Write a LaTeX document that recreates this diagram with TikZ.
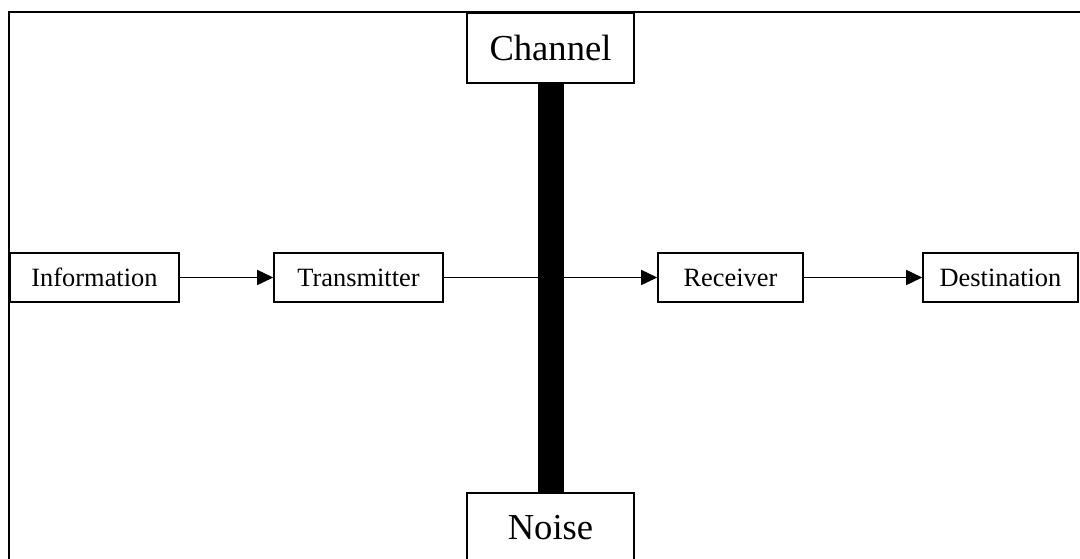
\documentclass[tikz,border=0pt]{standalone}
\usepackage{fontspec}
\setmainfont{Liberation Serif}
\usetikzlibrary{arrows.meta}
\begin{document}
\begin{tikzpicture}[x=1pt,y=-1pt,
  smallbox/.style={draw, line width=1.6pt, rectangle, inner sep=0pt, minimum height=49pt, fill=white, font=\fontsize{26.4}{30}\selectfont},
  bigbox/.style={draw, line width=1.6pt, rectangle, inner sep=0pt, minimum width=167pt, minimum height=70pt, fill=white, font=\fontsize{36.6}{40}\selectfont},
  conn/.style={line width=1.6pt, -{Triangle[length=16pt,width=15pt]}},
  frameline/.style={line width=2.2pt},
  barline/.style={line width=26pt}]
\useasboundingbox (0,0) rectangle (1080,559);
\clip (0,0) rectangle (1080,559);
% frame
\coordinate (fl) at (9,565);
\coordinate (ftl) at (9,12);
\coordinate (fr) at (1085,12);
\draw[frameline] (fl) -- (ftl) -- (fr);
% channel / noise
\node[bigbox] (channel) at (550.5,48) {Channel};
\node[bigbox] (noise) at (550.5,528) {Noise};
% boxes
\node[smallbox, minimum width=169pt] (info) at (94.5,277.5) {Information};
\node[smallbox, minimum width=169pt] (trans) at (358.5,277.5) {Transmitter};
\node[smallbox, minimum width=145pt] (recv) at (730.5,277.5) {Receiver};
\node[smallbox, minimum width=155pt] (dest) at (1000.5,277.5) {Destination};
\draw[conn] (info) -- (trans);
\draw[conn] (trans) -- (recv);
\draw[conn] (recv) -- (dest);
\draw[barline] (channel.south) -- (noise.north);
\end{tikzpicture}
\end{document}
